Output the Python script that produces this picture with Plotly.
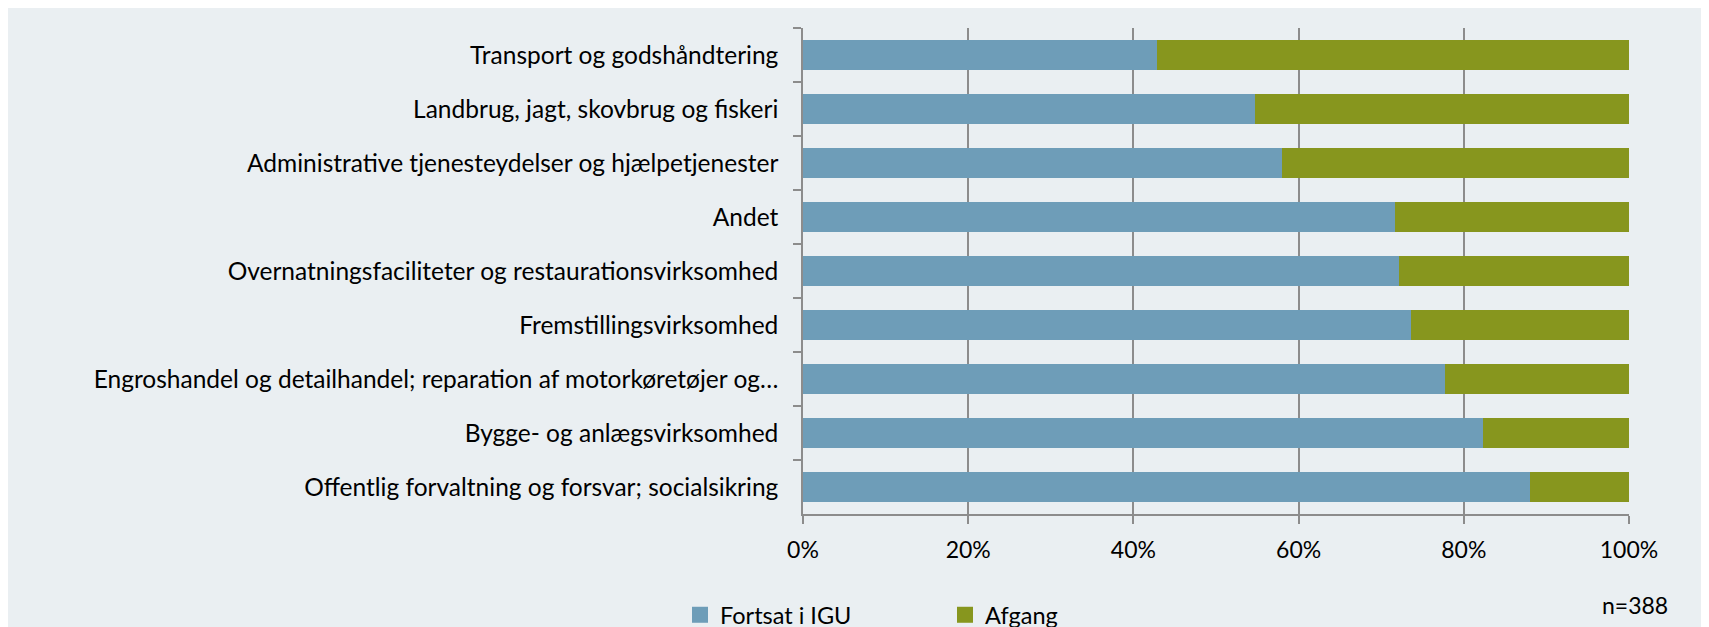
import plotly.graph_objects as go

categories = [
    "Transport og godshåndtering",
    "Landbrug, jagt, skovbrug og fiskeri",
    "Administrative tjenesteydelser og hjælpetjenester",
    "Andet",
    "Overnatningsfaciliteter og restaurationsvirksomhed",
    "Fremstillingsvirksomhed",
    "Engroshandel og detailhandel; reparation af motorkøretøjer og…",
    "Bygge- og anlægsvirksomhed",
    "Offentlig forvaltning og forsvar; socialsikring",
]
fortsat = [42.9, 54.7, 58.0, 71.7, 72.1, 73.6, 77.7, 82.3, 88.0]
afgang = [round(100 - v, 1) for v in fortsat]
x_ticks = [0, 20, 40, 60, 80, 100]
x_ticklabels = ["0%", "20%", "40%", "60%", "80%", "100%"]
series_names = ["Fortsat i IGU", "Afgang"]
note = "n=388"

BLUE = "#6E9DB8"
GREEN = "#87961E"
BG = "#EAEFF2"
AXIS = "#8C8C8C"
FONT = "Lato, 'Open Sans', sans-serif"

fig = go.Figure()
for vals, name, col in [(fortsat, series_names[0], BLUE), (afgang, series_names[1], GREEN)]:
    fig.add_trace(go.Bar(y=categories, x=vals, orientation="h", name=name,
                         legendgroup=name, showlegend=False,
                         marker=dict(color=col, line=dict(width=0))))
# legend entries (larger square swatches, linked to the bars)
for name, col in [(series_names[0], BLUE), (series_names[1], GREEN)]:
    fig.add_trace(go.Scatter(x=[None], y=[None], mode="markers", name=name,
                             legendgroup=name, showlegend=True, hoverinfo="skip",
                             marker=dict(symbol="square", size=16, color=col,
                                         line=dict(width=0))))

# figure coordinates (page body adds an 8px offset)
W, H = 1709, 660
L, T = 795, 20
plot_w, plot_h = 826, 486
R = W - L - plot_w
B = H - T - plot_h

def px_x(p):
    return (p - L) / plot_w

def px_y(p):
    return (T + plot_h - p) / plot_h

fig.update_layout(
    width=W, height=H,
    margin=dict(l=L, r=R, t=T, b=B, pad=0, autoexpand=False),
    barmode="stack",
    bargap=0.444,
    paper_bgcolor=BG,
    plot_bgcolor=BG,
    font=dict(family=FONT, size=23, color="#000000"),
    showlegend=True,
    legend=dict(orientation="h", x=px_x(672), xanchor="left",
                y=px_y(607), yanchor="middle",
                entrywidth=220, entrywidthmode="pixels",
                itemsizing="trace",
                bgcolor="rgba(0,0,0,0)", font=dict(size=23.5),
                traceorder="normal"),
    annotations=[dict(text=note, xref="paper", yref="paper",
                      x=px_x(1662), y=px_y(597), xanchor="right", yanchor="middle",
                      showarrow=False, font=dict(size=23))],
)
fig.update_xaxes(range=[0, 100], tickvals=x_ticks, ticktext=x_ticklabels,
                 showgrid=True, gridcolor=AXIS, gridwidth=1.5,
                 showline=True, linecolor=AXIS, linewidth=1.5,
                 ticks="outside", ticklen=8, tickcolor=AXIS, tickwidth=1.5,
                 ticklabelstandoff=7, tickfont=dict(size=23),
                 zeroline=False, fixedrange=True)
fig.update_yaxes(type="category", categoryorder="array", categoryarray=categories,
                 autorange="reversed",
                 showline=True, linecolor=AXIS, linewidth=1.5,
                 ticks="outside", ticklen=8, tickcolor=AXIS, tickwidth=1.5,
                 tickson="boundaries", ticklabelstandoff=18,
                 tickfont=dict(size=24.5), showgrid=False, zeroline=False)

fig.write_html("out.html")
